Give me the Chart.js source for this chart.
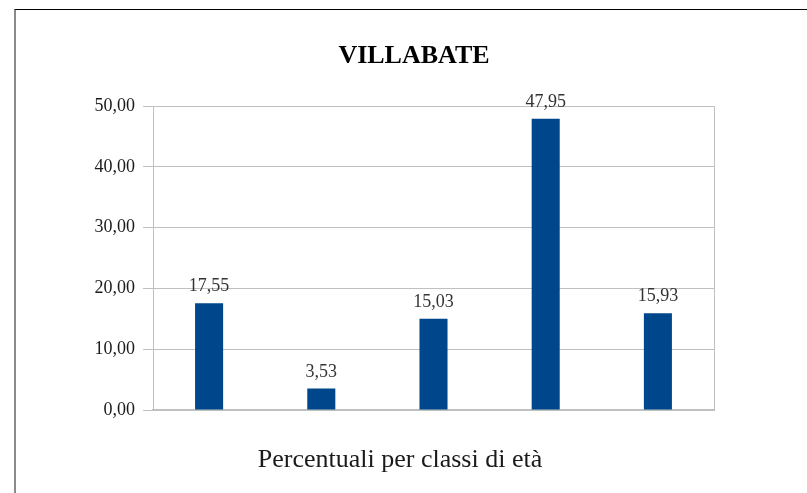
<!DOCTYPE html>
<html>
<head>
<meta charset="utf-8">
<script src="https://cdn.jsdelivr.net/npm/chart.js@4/dist/chart.umd.min.js"></script>
<style>
    html, body {
        margin: 0;
        padding: 0;
        background: #ffffff;
    }
    #wrap {
        position: relative;
        width: 807px;
        height: 493px;
        overflow: hidden;
    }
    #cornice {
        position: absolute;
        left: 14px;
        top: 9px;
        right: -5px;
        bottom: -5px;
        border-top: 1px solid #000000;
        border-left: 2px solid #8a8a8a;
        pointer-events: none;
    }
</style>
</head>
<body>
<div id="wrap">
    <canvas id="barChart" width="807" height="493"></canvas>
    <div id="cornice"></div>
</div>
<script>
const CLASSI = ["Classe 1", "Classe 2", "Classe 3", "Classe 4", "Classe 5"];
const PERCENTUALI = [17.55, 3.53, 15.03, 47.95, 15.93];
const TITOLO = "VILLABATE";
const TITOLO_ASSE_X = "Percentuali per classi di età";
const Y_MIN = 0;
const Y_MAX = 50;
const Y_PASSO = 10;

const FONT = "'Liberation Serif', 'DejaVu Serif', serif";

function formatta(v) {
    return Number(v).toFixed(2).replace(".", ",");
}

// etichette sopra le barre, bordo destro dell'area e titolo dell'asse x
const etichettePlugin = {
    id: "etichette",
    afterDatasetsDraw(chart) {
        const ctx = chart.ctx;
        const area = chart.chartArea;

        ctx.save();
        ctx.strokeStyle = "#c0c0c0";
        ctx.lineWidth = 1;
        ctx.beginPath();
        ctx.moveTo(area.right + 0.5, area.top);
        ctx.lineTo(area.right + 0.5, area.bottom);
        ctx.stroke();

        ctx.font = "18px " + FONT;
        ctx.fillStyle = "#333333";
        ctx.textAlign = "center";
        ctx.textBaseline = "alphabetic";
        chart.getDatasetMeta(0).data.forEach((bar, i) => {
            ctx.fillText(
                formatta(PERCENTUALI[i]),
                bar.x,
                bar.y - 12
            );
        });

        ctx.font = "26px " + FONT;
        ctx.fillStyle = "#1a1a1a";
        ctx.textBaseline = "middle";
        ctx.fillText(TITOLO_ASSE_X, 400, area.bottom + 50);
        ctx.restore();
    }
};

const ctx = document.getElementById("barChart");

new Chart(ctx, {
    type: "bar",
    data: {
        labels: CLASSI,
        datasets: [
            {
                data: PERCENTUALI,
                backgroundColor: "#00468a",
                barPercentage: 0.25,
                categoryPercentage: 1
            }
        ]
    },
    options: {
        responsive: false,
        animation: false,
        layout: {
            padding: { left: 21, right: 0, top: 0, bottom: 0 }
        },
        plugins: {
            legend: { display: false },
            tooltip: { enabled: false },
            title: {
                display: true,
                text: TITOLO,
                color: "#000000",
                font: { family: FONT, size: 26, weight: "bold" },
                padding: { top: 41, bottom: 34 }
            }
        },
        scales: {
            x: {
                grid: { display: false },
                border: { display: true, color: "#c0c0c0", width: 2 },
                ticks: { display: false },
                afterFit(scale) {
                    scale.height = 83;
                }
            },
            y: {
                min: Y_MIN,
                max: Y_MAX,
                ticks: {
                    stepSize: Y_PASSO,
                    padding: 8,
                    color: "#1a1a1a",
                    font: { family: FONT, size: 18 },
                    callback: v => formatta(v)
                },
                grid: {
                    color: "#c0c0c0",
                    lineWidth: 1,
                    tickLength: 10
                },
                border: { display: true, color: "#c0c0c0", width: 1 },
                afterFit(scale) {
                    scale.width = 132;
                }
            },
            // asse vuoto a destra: riserva lo spazio bianco oltre l'area
            destra: {
                type: "linear",
                position: "right",
                display: true,
                grid: { display: false, drawOnChartArea: false },
                border: { display: false },
                ticks: { display: false },
                afterFit(scale) {
                    scale.width = 93;
                }
            }
        }
    },
    plugins: [etichettePlugin]
});
</script>
</body>
</html>
